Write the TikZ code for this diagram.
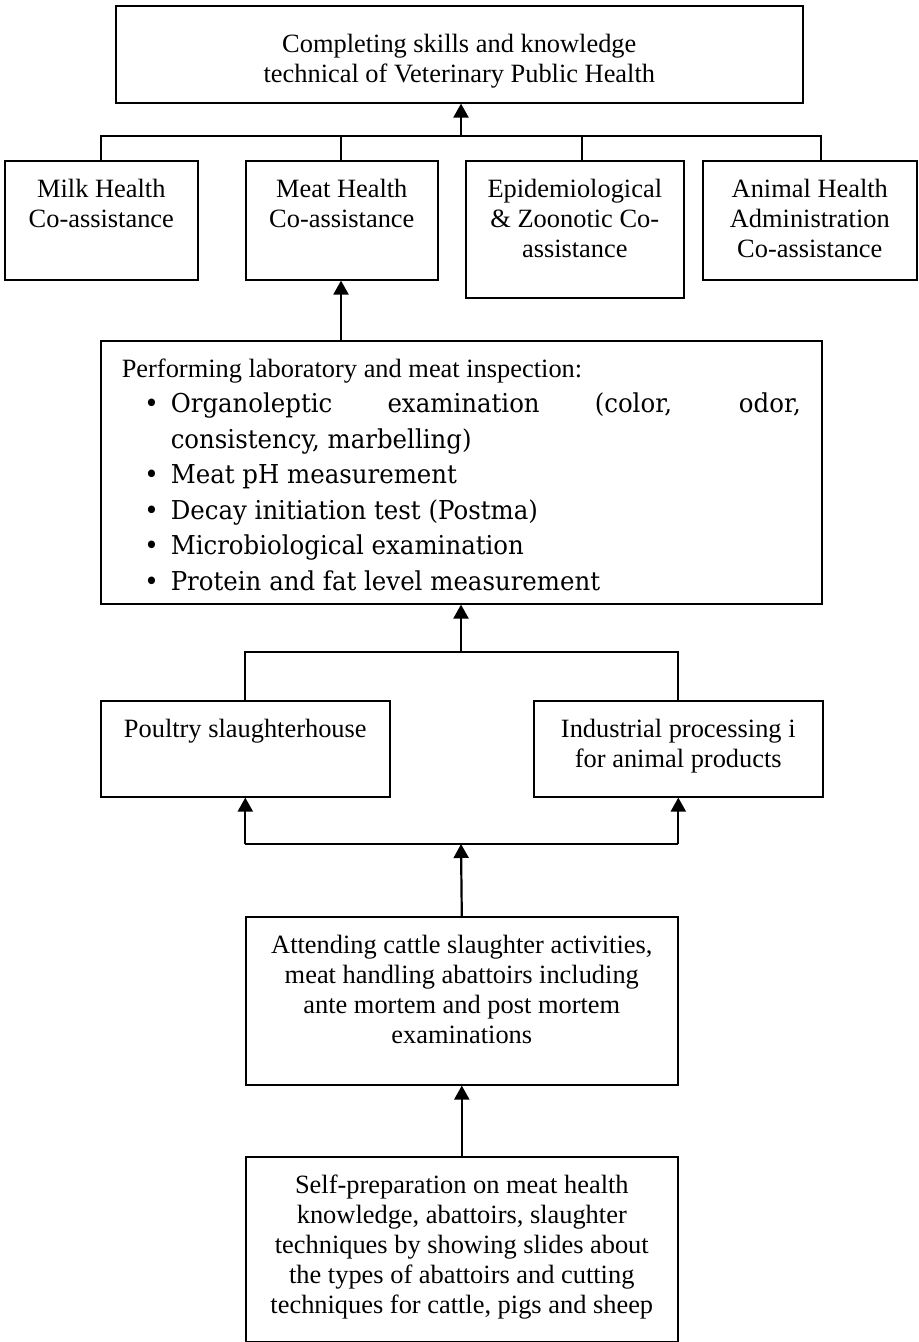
\documentclass[tikz,border=0pt]{standalone}
\usepackage{fontspec}
\setmainfont{Liberation Serif}
\newfontfamily\bulletfont{DejaVu Serif}[FakeStretch=0.94]
\usetikzlibrary{arrows.meta}

\newcommand\boxtext[4][9pt]{\parbox[c][#3][t]{#2}{\vspace*{#1}\centering #4\par}}
\newcommand\pitem[1]{{\leftskip=24.5pt\noindent\llap{\textbullet\hspace{6pt}}#1\par}}

\begin{document}
\begin{tikzpicture}[x=0.5pt,y=-0.5pt,
    font=\fontsize{13.2}{15}\selectfont,
    box/.style={draw,line width=0.8pt,inner sep=0pt,anchor=north west},
    link/.style={line width=1.1pt},
    arrow/.style={link,-{Triangle[length=7pt,width=7.5pt]}}]
  \useasboundingbox (0,0) rectangle (918,1342);

  \node[box] (top) at (115,5) {\boxtext[14pt]{343.5pt}{48.5pt}{Completing skills and knowledge\\technical of Veterinary Public Health}};
  \node[box] (milk) at (4,160) {\boxtext{96.5pt}{59.5pt}{Milk Health\\Co-assistance}};
  \node[box] (meat) at (245,160) {\boxtext{96pt}{59.5pt}{Meat Health\\Co-assistance}};
  \node[box] (epid) at (465,160) {\boxtext{109pt}{68.5pt}{Epidemiological\\\& Zoonotic Co-\\assistance}};
  \node[box] (animal) at (702,160) {\boxtext{107pt}{59.5pt}{Animal Health\\Administration\\Co-assistance}};

  \node[box,inner xsep=10.5pt] (perf) at (100,340) {\parbox[c][131.5pt][t]{339.5pt}{\vspace*{9pt}Performing laboratory and meat inspection:\par
    \bulletfont\fontsize{13}{17.75}\selectfont
    \pitem{Organoleptic examination (color, odor,\linebreak consistency, marbelling)}
    \pitem{Meat pH measurement}
    \pitem{Decay initiation test (Postma)}
    \pitem{Microbiological examination}
    \pitem{Protein and fat level measurement}}};

  \node[box] (poultry) at (100,700) {\boxtext{144.5pt}{48pt}{Poultry slaughterhouse}};
  \node[box] (industrial) at (533,700) {\boxtext{144.5pt}{48pt}{Industrial processing i\\for animal products}};
  \node[box] (attend) at (245,916) {\boxtext{216pt}{84pt}{Attending cattle slaughter activities,\\meat handling abattoirs including\\ante mortem and post mortem\\examinations}};
  \node[box] (selfprep) at (245,1156) {\boxtext{216pt}{92.5pt}{Self-preparation on meat health\\knowledge, abattoirs, slaughter\\techniques by showing slides about\\the types of abattoirs and cutting\\techniques for cattle, pigs and sheep}};

  \coordinate (b1) at (101,136);
  \coordinate (b2) at (341,136);
  \coordinate (b3) at (582,136);
  \coordinate (b4) at (821,136);
  \coordinate (bm) at (461,136);
  \coordinate (m) at (461,652);
  \coordinate (l) at (461,844);

  \draw[link] (b1 |- milk.north) -- (b1) -- (b4) -- (b4 |- animal.north);
  \draw[link] (b2) -- (b2 |- meat.north);
  \draw[link] (b3) -- (b3 |- epid.north);
  \draw[arrow] (bm) -- (bm |- top.south);
  \draw[arrow] (perf.north -| b2) -- (meat.south -| b2);

  \draw[link] (poultry.north) -- (poultry.north |- m) -- (industrial.north |- m) -- (industrial.north);
  \draw[arrow] (m) -- (perf.south -| m);
  \draw[link] (poultry.south |- l) -- (industrial.south |- l);
  \draw[arrow] (poultry.south |- l) -- (poultry.south);
  \draw[arrow] (industrial.south |- l) -- (industrial.south);
  \draw[arrow] (attend.north) -- (l);
  \draw[arrow] (selfprep.north) -- (attend.south);
\end{tikzpicture}
\end{document}
